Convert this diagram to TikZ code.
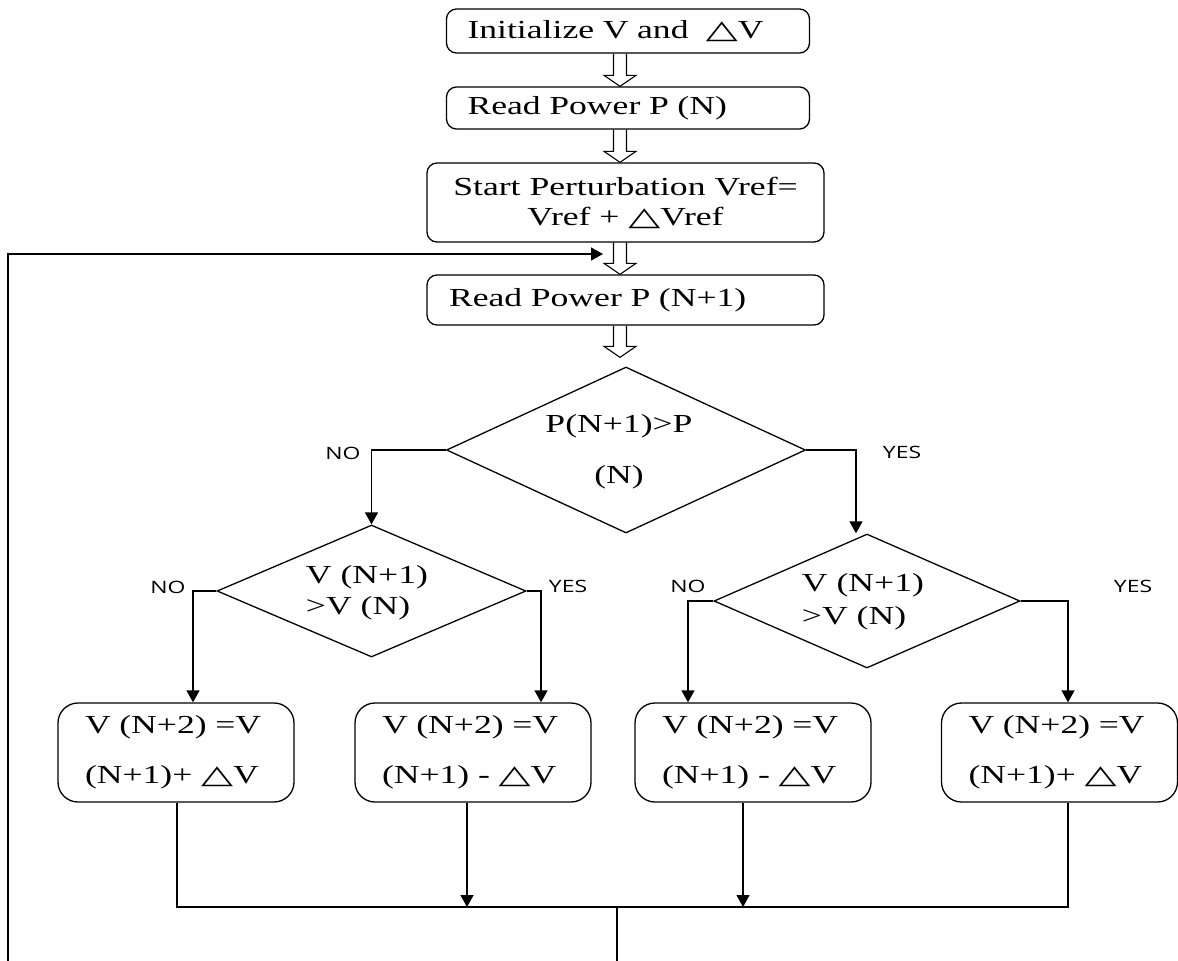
\documentclass[tikz,border=0pt]{standalone}
\usepackage{fontspec}
\setmainfont[FakeStretch=1.37]{Liberation Serif}
\newfontfamily\trifont[FakeStretch=1.6,Scale=1.0]{DejaVu Sans}
\newfontfamily\labfont[FakeStretch=1.35]{Open Sans}
\newcommand\tri{{\trifont △}}
\usetikzlibrary{shapes.geometric,arrows.meta,calc}
\newcommand\harrow[2]{%
  \path (ax |- #1) coordinate (hs) (ax |- #2) coordinate (ht);
  \draw[line width=1.1pt,line join=miter]
    ([xshift=-6.5pt]hs) -- ([xshift=-6.5pt,yshift=11pt]ht) -- ([xshift=-16pt,yshift=11pt]ht)
    -- (ht) -- ([xshift=16pt,yshift=11pt]ht) -- ([xshift=6.5pt,yshift=11pt]ht) -- ([xshift=6.5pt]hs);}
\begin{document}
\begin{tikzpicture}[x=1pt,y=-1pt,line width=1.3pt,
  every node/.style={font=\fontsize{26}{31}\selectfont},
  topbox/.style={draw,rounded corners=10pt,inner sep=0pt},
  botbox/.style={draw,rounded corners=20pt,inner sep=0pt,minimum width=236pt,minimum height=99pt,text width=182pt,align=left},
  dia/.style={draw,diamond,inner sep=0pt},
  lab/.style={font=\labfont\fontsize{17}{20}\selectfont},
  arr/.style={-{Triangle[length=12pt,width=13pt]}}]
\useasboundingbox (0,0) rectangle (1178,961);
\clip (0,0) rectangle (1178,961);
\coordinate (ax) at (620,0);
% process boxes
\node[topbox,minimum width=363pt,minimum height=44pt,text width=321pt,align=left] (b1) at (628,31) {Initialize V and \ \tri V};
\node[topbox,minimum width=363pt,minimum height=42pt,text width=321pt,align=left] (b2) at (628,108) {Read Power P (N)};
\node[topbox,minimum width=397pt,minimum height=79pt,align=center,font=\fontsize{26}{30}\selectfont] (b3) at (625.5,202.5) {Start Perturbation Vref=\\Vref + \tri Vref};
\node[topbox,minimum width=397pt,minimum height=50pt,text width=353pt,align=left] (b4) at (625.5,300) {Read Power P (N+1)};
% decisions
\node[dia,minimum width=359pt,minimum height=166pt] (d1) at (626,450) {};
\node[align=center] (d1t) at (619,452) {P(N+1)>P\\[20pt](N)};
\node[dia,minimum width=309pt,minimum height=132pt] (d2) at (371.5,591) {};
\node[align=left,anchor=west] (d2t) at (302,592.5) {V (N+1)\\>V (N)};
\node[dia,minimum width=306pt,minimum height=134pt] (d3) at (867,601) {};
\node[align=left,anchor=west] (d3t) at (798,601.5) {V (N+1)\\[2pt]>V (N)};
% result boxes
\node[botbox] (bx1) at (176,752.5) {V (N+2) =V\\[19pt](N+1)+ \tri V};
\node[botbox] (bx2) at (473,752.5) {V (N+2) =V\\[19pt](N+1) - \tri V};
\node[botbox] (bx3) at (753,752.5) {V (N+2) =V\\[19pt](N+1) - \tri V};
\node[botbox] (bx4) at (1059.5,752.5) {V (N+2) =V\\[19pt](N+1)+ \tri V};
% labels
\node[lab] (no1) at (343,453) {NO};
\node[lab] (yes1) at (902,452) {YES};
\node[lab] (no2) at (168,587) {NO};
\node[lab] (yes2) at (568,586) {YES};
\node[lab] (no3) at (688,586) {NO};
\node[lab] (yes3) at (1133,586) {YES};
% hollow arrows
\coordinate (t4) at ([yshift=9pt]d1.north);
\harrow{b1.south}{b2.north}
\harrow{b2.south}{b3.north}
\harrow{b3.south}{b4.north}
\harrow{b4.south}{t4}
% decision branches
\draw[arr] (d1.west) -| (d2.north);
\draw[arr] (d1.east) -| ([xshift=-11pt]d3.north);
\draw[arr] (d2.west) -| ([xshift=17pt]bx1.north);
\draw[arr] (d2.east) -| ([xshift=68pt]bx2.north);
\draw[arr] (d3.west) -| ([xshift=-65pt]bx3.north);
\draw[arr] (d3.east) -| ([xshift=8.5pt]bx4.north);
% merge
\coordinate (mR) at (1068,907);
\coordinate (mJ) at (617,907);
\draw ([xshift=1pt]bx1.south) |- (mR) -- ([xshift=8.5pt]bx4.south);
\coordinate (c2) at ([xshift=-6pt]bx2.south);
\coordinate (c3) at ([xshift=-10pt]bx3.south);
\draw[arr] (c2) -- (c2 |- mR);
\draw[arr] (c3) -- (c3 |- mR);
% feedback loop
\coordinate (lp) at (8,1000);
\coordinate (fb) at (603,254);
\draw[arr] (mJ) |- (lp) |- (fb);
\end{tikzpicture}
\end{document}
